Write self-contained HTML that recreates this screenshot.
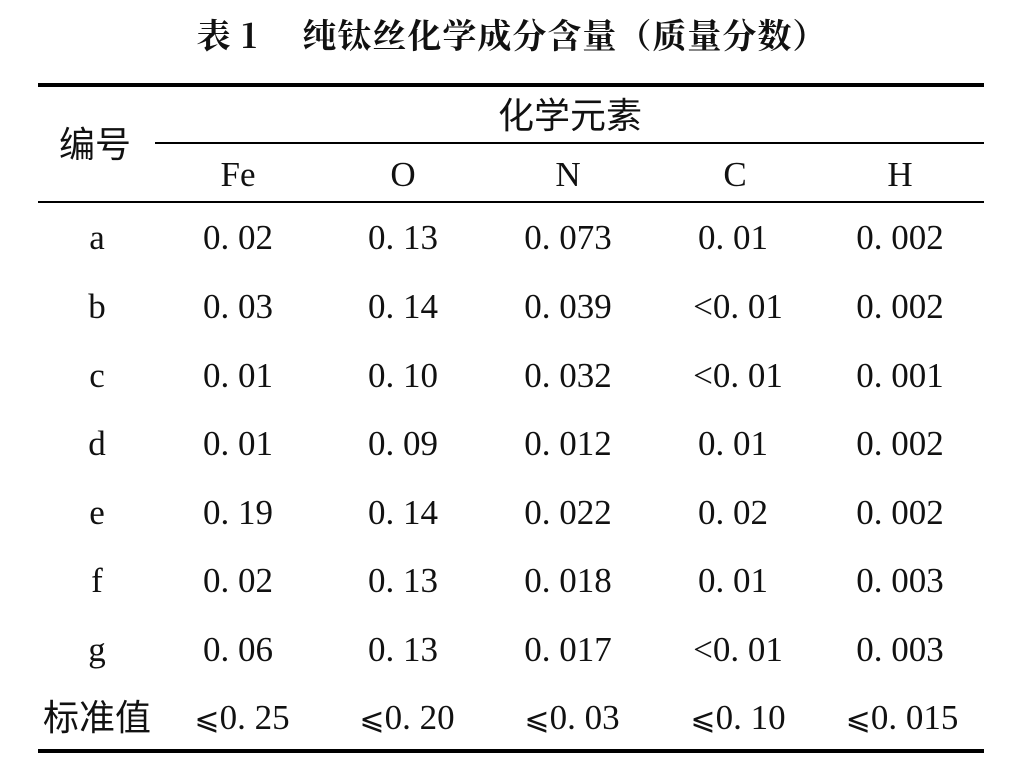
<!DOCTYPE html>
<html><head><meta charset="utf-8"><style>
body{margin:0;background:#fff;width:1020px;height:763px;position:relative;overflow:hidden;font-family:"Liberation Serif","Noto Serif CJK SC",serif;color:#111}
.t{position:absolute;width:200px;margin-left:-100px;text-align:center;font-size:35px;line-height:40px;white-space:pre}
.c{font-family:"Liberation Sans","Noto Sans CJK SC",sans-serif;font-size:36px}
.l{position:absolute;background:#000}
.le{font-family:"DejaVu Serif",serif;font-size:30px}
</style></head><body>
<div class="t" style="left:512px;top:14px;width:800px;margin-left:-400px;font-family:'Noto Serif CJK SC',serif;font-weight:bold;font-size:34px;letter-spacing:1px">表 1　 纯钛丝化学成分含量（质量分数）</div>
<div class="l" style="left:38px;top:83px;width:946px;height:4px"></div>
<div class="l" style="left:155px;top:142px;width:829px;height:2px"></div>
<div class="l" style="left:38px;top:201px;width:946px;height:2px"></div>
<div class="l" style="left:38px;top:749px;width:946px;height:4px"></div>
<div class="t c" style="left:570px;top:96px">化学元素</div>
<div class="t c" style="left:95px;top:125px">编号</div>
<div class="t" style="left:238px;top:155px">Fe</div>
<div class="t" style="left:403px;top:155px">O</div>
<div class="t" style="left:568px;top:155px">N</div>
<div class="t" style="left:735px;top:155px">C</div>
<div class="t" style="left:900px;top:155px">H</div>

<div class="t" style="left:97px;top:218px">a</div><div class="t" style="left:238px;top:218px">0. 02</div><div class="t" style="left:403px;top:218px">0. 13</div><div class="t" style="left:568px;top:218px">0. 073</div><div class="t" style="left:733px;top:218px">0. 01</div><div class="t" style="left:900px;top:218px">0. 002</div>
<div class="t" style="left:97px;top:287px">b</div><div class="t" style="left:238px;top:287px">0. 03</div><div class="t" style="left:403px;top:287px">0. 14</div><div class="t" style="left:568px;top:287px">0. 039</div><div class="t" style="left:738px;top:287px">&lt;0. 01</div><div class="t" style="left:900px;top:287px">0. 002</div>
<div class="t" style="left:97px;top:356px">c</div><div class="t" style="left:238px;top:356px">0. 01</div><div class="t" style="left:403px;top:356px">0. 10</div><div class="t" style="left:568px;top:356px">0. 032</div><div class="t" style="left:738px;top:356px">&lt;0. 01</div><div class="t" style="left:900px;top:356px">0. 001</div>
<div class="t" style="left:97px;top:424px">d</div><div class="t" style="left:238px;top:424px">0. 01</div><div class="t" style="left:403px;top:424px">0. 09</div><div class="t" style="left:568px;top:424px">0. 012</div><div class="t" style="left:733px;top:424px">0. 01</div><div class="t" style="left:900px;top:424px">0. 002</div>
<div class="t" style="left:97px;top:493px">e</div><div class="t" style="left:238px;top:493px">0. 19</div><div class="t" style="left:403px;top:493px">0. 14</div><div class="t" style="left:568px;top:493px">0. 022</div><div class="t" style="left:733px;top:493px">0. 02</div><div class="t" style="left:900px;top:493px">0. 002</div>
<div class="t" style="left:97px;top:561px">f</div><div class="t" style="left:238px;top:561px">0. 02</div><div class="t" style="left:403px;top:561px">0. 13</div><div class="t" style="left:568px;top:561px">0. 018</div><div class="t" style="left:733px;top:561px">0. 01</div><div class="t" style="left:900px;top:561px">0. 003</div>
<div class="t" style="left:97px;top:630px">g</div><div class="t" style="left:238px;top:630px">0. 06</div><div class="t" style="left:403px;top:630px">0. 13</div><div class="t" style="left:568px;top:630px">0. 017</div><div class="t" style="left:738px;top:630px">&lt;0. 01</div><div class="t" style="left:900px;top:630px">0. 003</div>
<div class="t c" style="left:97px;top:698px">标准值</div><div class="t" style="left:242px;top:698px"><span class="le">⩽</span>0. 25</div><div class="t" style="left:407px;top:698px"><span class="le">⩽</span>0. 20</div><div class="t" style="left:572px;top:698px"><span class="le">⩽</span>0. 03</div><div class="t" style="left:738px;top:698px"><span class="le">⩽</span>0. 10</div><div class="t" style="left:902px;top:698px"><span class="le">⩽</span>0. 015</div>
</body></html>
